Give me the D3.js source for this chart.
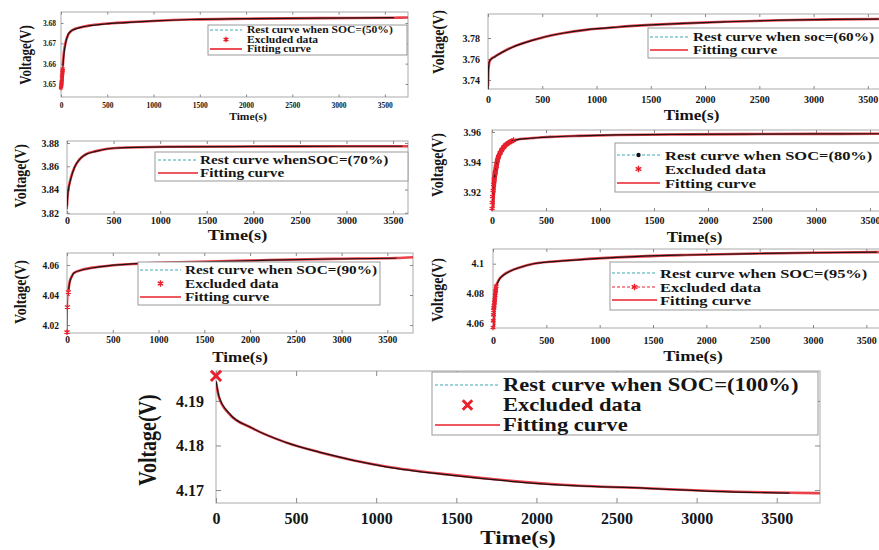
<!DOCTYPE html>
<html>
<head>
<meta charset="utf-8">
<script src="https://cdn.jsdelivr.net/npm/d3@7"></script>
<style>
  body { margin: 0; background: #fff; }
  svg text { font-family: "Liberation Serif", "Times New Roman", serif; font-weight: bold; fill: #151515; }
</style>
</head>
<body>
<svg id="chart" width="879" height="550"></svg>
<script>
// time ticks shared by every panel
const xTicks = [0, 500, 1000, 1500, 2000, 2500, 3000, 3500];

// SOC 50%
const t50 = [20, 30, 50, 75, 100, 150, 225, 300, 475, 700, 1000, 1400, 2000, 2800, 3600];
const rest50 = [3.658, 3.664, 3.670, 3.6742, 3.6757, 3.677, 3.678, 3.6786, 3.6795, 3.6802, 3.681, 3.6817, 3.6821, 3.6824, 3.6826];
const fit50 = [3.659, 3.665, 3.6705, 3.674, 3.6756, 3.6771, 3.678, 3.6787, 3.6796, 3.6803, 3.681, 3.6817, 3.6821, 3.6824, 3.6826, 3.6827];
const exT50 = [0, 2, 4, 6, 8, 10, 12, 14, 16, 18];
const exV50 = [3.648, 3.649, 3.650, 3.651, 3.652, 3.6535, 3.6545, 3.6555, 3.6565, 3.6575];

// SOC 60%
const t60 = [0, 3, 8, 15, 30, 60, 100, 150, 220, 300, 400, 520, 700, 900, 1200, 1500, 1800, 2200, 2700, 3200, 3600];
const rest60 = [3.731, 3.748, 3.755, 3.758, 3.760, 3.762, 3.7645, 3.7675, 3.771, 3.7742, 3.7775, 3.781, 3.7848, 3.7878, 3.7905, 3.7925, 3.794, 3.7955, 3.797, 3.7978, 3.798];
const fit60 = [3.734, 3.747, 3.754, 3.7578, 3.7601, 3.7621, 3.7646, 3.7676, 3.7711, 3.7743, 3.7776, 3.781, 3.7848, 3.7878, 3.7905, 3.7925, 3.794, 3.7955, 3.797, 3.7978, 3.7982, 3.7983];

// SOC 70%
const t70 = [0, 5, 10, 20, 43, 80, 130, 200, 310, 525, 1060, 2000, 3000, 3600];
const rest70 = [3.823, 3.832, 3.837, 3.842, 3.850, 3.859, 3.8655, 3.870, 3.8728, 3.8757, 3.8766, 3.877, 3.8772, 3.8772];
const fit70 = [3.826, 3.833, 3.8375, 3.8425, 3.8505, 3.859, 3.8655, 3.8702, 3.873, 3.8757, 3.8767, 3.877, 3.8772, 3.8772, 3.8772];

// SOC 80%
const t80 = [0, 10, 30, 55, 100, 160, 220, 350, 540, 800, 1150, 1800, 2500, 3000, 3600];
const rest80 = [3.912, 3.921, 3.933, 3.9427, 3.9493, 3.953, 3.9547, 3.9558, 3.9567, 3.9574, 3.958, 3.9584, 3.9586, 3.9587, 3.9588];
const fit80 = [3.913, 3.9215, 3.9335, 3.9428, 3.9492, 3.953, 3.9547, 3.9558, 3.9567, 3.9574, 3.958, 3.9584, 3.9586, 3.9587, 3.9588, 3.9588];
const exT80 = [0, 2, 5, 10, 15, 20, 30, 40, 50, 60, 75, 90, 110, 130, 160, 200];
const exV80 = [3.909, 3.913, 3.917, 3.921, 3.925, 3.928, 3.933, 3.937, 3.941, 3.9435, 3.946, 3.948, 3.950, 3.9515, 3.953, 3.9545];

// SOC 90%
const t90 = [15, 30, 50, 75, 165, 350, 710, 1440, 2200, 2900, 3600];
const rest90 = [4.042, 4.0485, 4.052, 4.0547, 4.0567, 4.0587, 4.0607, 4.062, 4.0632, 4.064, 4.0645];
const fit90 = [4.043, 4.049, 4.0522, 4.0547, 4.0568, 4.0588, 4.0607, 4.0621, 4.0633, 4.0641, 4.0647, 4.0652];
const exT90 = [0, 5, 15];
const exV90 = [4.0153, 4.032, 4.042];

// SOC 95%
const t95 = [30, 45, 65, 100, 160, 250, 380, 690, 1160, 1800, 2500, 3000, 3600];
const rest95 = [4.085, 4.0875, 4.0902, 4.0925, 4.095, 4.0975, 4.100, 4.102, 4.1042, 4.1058, 4.1068, 4.1073, 4.1077];
const fit95 = [4.0855, 4.088, 4.0903, 4.0926, 4.0951, 4.0975, 4.1, 4.1021, 4.1042, 4.1058, 4.1068, 4.1073, 4.1077, 4.1079];
const exT95 = [0, 2, 4, 6, 8, 10, 13, 16, 20, 25, 30];
const exV95 = [4.0575, 4.062, 4.066, 4.069, 4.0705, 4.072, 4.074, 4.076, 4.079, 4.082, 4.085];

// SOC 100%
const t100 = [0, 19, 80, 225, 435, 645, 1060, 1475, 1895, 2160, 2690, 3100, 3580];
const rest100 = [4.1945, 4.191, 4.1873, 4.1839, 4.1807, 4.1785, 4.1752, 4.1733, 4.1718, 4.1711, 4.1704, 4.1697, 4.1693];
const fit100 = [4.1942, 4.1908, 4.1872, 4.1839, 4.1807, 4.1785, 4.1753, 4.1734, 4.1719, 4.1712, 4.1704, 4.1698, 4.1694, 4.1693];
const exT100 = [0];
const exV100 = [4.1956];

const panels = [
  { box: [61, 12, 408, 97], xMax: 3750, yDom: [3.6436, 3.6854], yTicks: [3.65, 3.66, 3.67, 3.68],
    t: t50, rest: rest50, fit: fit50, exT: exT50, exV: exV50, exSize: 14, exW: 4,
    tick: 7.5, xPad: 6, yPad: 5, tk: 2.5, lab: 9.5, labX: 248, labY: 117, yLab: 13, yLabX: 25, yLabY: 55,
    leg: { box: [208, 25, 407, 55], rows: [30, 39.5, 49], sample: [210, 242], tx: 247, size: 9.5,
      names: ["Rest curve when SOC=(50%)", "Excluded data", "Fitting curve"] } },
  { box: [488, 14, 895, 89], xMax: 3750, yDom: [3.7314, 3.8029], yTicks: [3.74, 3.76, 3.78],
    t: t60, rest: rest60, fit: fit60,
    tick: 10, xPad: 7, yPad: 8, tk: 3, lab: 14, labY: 115, yLab: 14, yLabX: 438, yLabY: 42,
    leg: { box: [648, 28, 900, 58], rows: [37, 50], sample: [650, 688], tx: 693, size: 12.5,
      names: ["Rest curve when soc=(60%)", "Fitting curve"] } },
  { box: [67, 141, 408, 214], xMax: 3660, yDom: [3.819, 3.8817], yTicks: [3.82, 3.84, 3.86, 3.88],
    t: t70, rest: rest70, fit: fit70,
    tick: 10, xPad: 2.5, yPad: 8, tk: 3, lab: 15, labY: 235, yLab: 14, yLabX: 20, yLabY: 176,
    leg: { box: [155, 152, 408, 181], rows: [160, 173], sample: [158, 198], tx: 200, size: 12.5,
      names: ["Rest curve whenSOC=(70%)", "Fitting curve"] } },
  { box: [492, 130, 897, 211], xMax: 3750, yDom: [3.9073, 3.9613], yTicks: [3.92, 3.94, 3.96],
    t: t80, rest: rest80, fit: fit80, exT: exT80, exV: exV80, exSize: 22, exW: 5,
    tick: 10, xPad: 5.5, yPad: 11, tk: 3, lab: 14, labY: 237, yLab: 14, yLabX: 437, yLabY: 165,
    leg: { box: [615, 143, 900, 192], rows: [155, 169, 183], sample: [617, 660], tx: 665, size: 13.5, dot: true,
      names: ["Rest curve when SOC=(80%)", "Excluded data", "Fitting curve"] } },
  { box: [67, 253, 413, 333], xMax: 3780, yDom: [4.0147, 4.068], yTicks: [4.02, 4.04, 4.06],
    t: t90, rest: rest90, fit: fit90, exT: exT90, exV: exV90, exSize: 24, exW: 1.2,
    tick: 9.5, xPad: 3.7, yPad: 8, tk: 3, lab: 14, labY: 357, yLab: 14, yLabX: 20, yLabY: 292,
    leg: { box: [138, 262, 380, 305], rows: [270, 283.5, 297], sample: [140, 181], tx: 185, size: 12.5,
      names: ["Rest curve when SOC=(90%)", "Excluded data", "Fitting curve"] } },
  { box: [493, 249, 893, 328], xMax: 3750, yDom: [4.0572, 4.1098], yTicks: [4.06, 4.08, 4.1],
    t: t95, rest: rest95, fit: fit95, exT: exT95, exV: exV95, exSize: 20, exW: 4,
    tick: 10, xPad: 8.5, yPad: 9, tk: 3, lab: 15, labY: 356, yLab: 14, yLabX: 437, yLabY: 290,
    leg: { box: [610, 262, 900, 310], rows: [273, 287, 300], sample: [612, 657], tx: 660, size: 13.5, exLine: true,
      names: ["Rest curve when SOC=(95%)", "Excluded data", "Fitting curve"] } },
  { box: [216, 371, 820, 503], xMax: 3770, yDom: [4.1671, 4.1967], yTicks: [4.17, 4.18, 4.19],
    t: t100, rest: rest100, fit: fit100, exT: exT100, exV: exV100, exSize: 70, exW: 0, exX: true,
    tick: 16, xPad: 10, yPad: 12, tk: 5, lab: 19, labY: 537, yLab: 20, yLabX: 147, yLabY: 440,
    leg: { box: [432, 372, 818, 435], rows: [385, 405, 425], sample: [435, 500], tx: 503, size: 18.5,
      names: ["Rest curve when SOC=(100%)", "Excluded data", "Fitting curve"] } }
];

const svg = d3.select("#chart");
const SX = 1.22;  // the source figure is a bit stretched sideways
const red = "#e8202c";
const fmt = d3.format("~g");

function label(g, x, y, s, size, rot) {
  g.append("text")
    .attr("transform", `translate(${x},${y}) scale(${SX},1)` + (rot ? " rotate(-90)" : ""))
    .attr("text-anchor", rot ? "middle" : "start")
    .attr("dy", "0.35em")
    .style("font-size", size + "px")
    .text(s);
}

panels.forEach((p, i) => {
  const [L, T, R, B] = p.box;
  const x = d3.scaleLinear().domain([0, p.xMax]).range([L, R]);
  const y = d3.scaleLinear().domain(p.yDom).range([B, T]);
  const g = svg.append("g");

  g.append("clipPath").attr("id", "clip" + i)
    .append("rect").attr("x", L).attr("y", T - 2).attr("width", R - L).attr("height", B - T + 3);

  g.append("rect").attr("x", L).attr("y", T).attr("width", R - L).attr("height", B - T)
    .attr("fill", "#fff").attr("stroke", "#aaa").attr("stroke-width", 1);

  const styleAxis = (sel, size) => {
    sel.select(".domain").remove();
    sel.selectAll("line").attr("stroke", "#888");
    sel.selectAll("text").style("font-size", size + "px").attr("fill", "#151515");
  };

  g.append("g").attr("transform", `translate(0,${B})`)
    .call(d3.axisBottom(x).tickValues(xTicks).tickSize(-p.tk).tickPadding(p.xPad).tickFormat(d3.format("d")))
    .call(s => styleAxis(s, p.tick));
  g.append("g").attr("transform", `translate(0,${T})`)
    .call(d3.axisTop(x).tickValues(xTicks).tickSize(-p.tk).tickFormat(""))
    .call(s => styleAxis(s, p.tick));
  g.append("g").attr("transform", `translate(${L},0)`)
    .call(d3.axisLeft(y).tickValues(p.yTicks).tickSize(-p.tk).tickPadding(p.yPad).tickFormat(fmt))
    .call(s => styleAxis(s, p.tick));
  g.append("g").attr("transform", `translate(${R},0)`)
    .call(d3.axisRight(y).tickValues(p.yTicks).tickSize(-p.tk).tickFormat(""))
    .call(s => styleAxis(s, p.tick));

  const line = d3.line().x(d => x(d[0])).y(d => y(d[1])).curve(d3.curveMonotoneX);
  const plot = g.append("g").attr("clip-path", `url(#clip${i})`);

  const fitT = p.t.concat([p.xMax]);
  plot.append("path").datum(d3.zip(fitT, p.fit)).attr("d", line)
    .attr("fill", "none").attr("stroke", red).attr("stroke-width", 2.6).attr("opacity", 0.85);

  if (p.exT) {
    const ex = d3.zip(p.exT, p.exV);
    if (p.exW) {
      plot.append("path").datum(ex).attr("d", line)
        .attr("fill", "none").attr("stroke", red).attr("stroke-width", p.exW);
    }
    const sym = d3.symbol().type(p.exX ? d3.symbolX : d3.symbolAsterisk).size(p.exSize);
    g.selectAll(null).data(ex).join("path")
      .attr("transform", d => `translate(${x(d[0])},${y(d[1])})`)
      .attr("d", sym).attr("fill", "none").attr("stroke", red).attr("stroke-width", p.exX ? 3 : 1.3);
  }

  plot.append("path").datum(d3.zip(p.t, p.rest)).attr("d", line)
    .attr("fill", "none").attr("stroke", "#1c1414").attr("stroke-width", 1.2);

  // axis titles
  g.append("text")
    .attr("transform", `translate(${p.labX || (L + R) / 2},${p.labY}) scale(${SX},1)`)
    .attr("text-anchor", "middle").attr("dy", "0.35em")
    .style("font-size", p.lab + "px").text("Time(s)");
  label(g, p.yLabX, p.yLabY, "Voltage(V)", p.yLab, true);

  // legend
  const lg = p.leg;
  g.append("rect").attr("x", lg.box[0]).attr("y", lg.box[1])
    .attr("width", lg.box[2] - lg.box[0]).attr("height", lg.box[3] - lg.box[1])
    .attr("fill", "#fff").attr("stroke", "#999").attr("stroke-width", 1);
  const [s0, s1] = lg.sample;
  const mid = (s0 + s1) / 2;
  lg.names.forEach((name, k) => {
    const ry = lg.rows[k];
    if (k === 0) {
      g.append("line").attr("x1", s0).attr("x2", s1).attr("y1", ry).attr("y2", ry)
        .attr("stroke", "#3aa9b4").attr("stroke-width", 1.2).attr("stroke-dasharray", "3,2");
      if (lg.dot) g.append("circle").attr("cx", mid).attr("cy", ry).attr("r", 2.2).attr("fill", "#111");
    } else if (name === "Excluded data") {
      if (lg.exLine) {
        g.append("line").attr("x1", s0).attr("x2", s1).attr("y1", ry).attr("y2", ry)
          .attr("stroke", red).attr("stroke-width", 1).attr("stroke-dasharray", "3,2");
      }
      g.append("path").attr("transform", `translate(${mid},${ry})`)
        .attr("d", d3.symbol().type(p.exX ? d3.symbolX : d3.symbolAsterisk).size(p.exX ? 60 : lg.size * 2.2))
        .attr("fill", "none").attr("stroke", red).attr("stroke-width", p.exX ? 3 : 1.4);
    } else {
      g.append("line").attr("x1", s0).attr("x2", s1).attr("y1", ry).attr("y2", ry)
        .attr("stroke", red).attr("stroke-width", 1.6);
    }
    label(g, lg.tx, ry, name, lg.size, false);
  });
});
</script>
</body>
</html>
